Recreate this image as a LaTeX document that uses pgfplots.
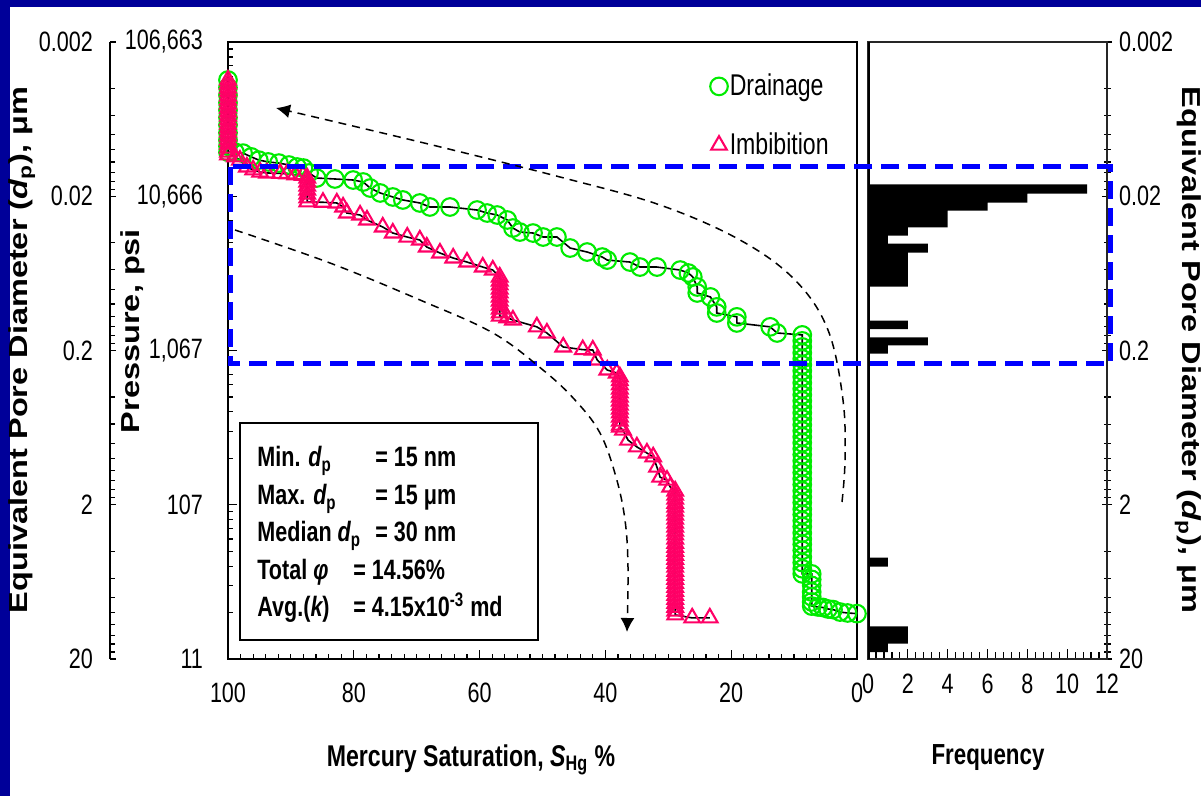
\documentclass[border=0pt]{standalone}
\usepackage{fontspec}
\setmainfont{Liberation Sans}
\newfontfamily\narrowfont[FakeStretch=0.77]{Liberation Sans}
\newfontfamily\widefont[FakeStretch=1.25]{Liberation Sans}
\usepackage{pgfplots}
\pgfplotsset{compat=1.18}
\usepackage{pgfplotstable}
\usetikzlibrary{arrows.meta}
\definecolor{bgblue}{RGB}{0,0,153}
\definecolor{dgreen}{RGB}{0,235,0}
\definecolor{imbpink}{RGB}{255,0,102}
\definecolor{boxblue}{RGB}{0,0,255}
\newcommand\ticfont{\narrowfont\fontsize{14}{16}\selectfont}

\pgfplotstableread{
S P
100 60500
100 54000
100 48300
100 43000
100 38600
100 34500
100 30900
100 27500
100 24700
100 22500
100 20600
98.9 20600
97.6 20300
96.3 19200
95.1 18300
93.6 17800
91.9 17500
90.3 17000
89.0 16500
88.0 16250
87.1 15100
85.9 14000
83.0 13800
80.1 13590
78.5 13190
77.4 12060
75.8 11200
73.8 10550
72.2 10090
69.5 9645
67.9 9085
64.7 9085
60.4 8685
58.8 8305
57.2 8060
55.6 7485
54.7 6637
53.6 6251
51.5 6158
49.9 5803
47.7 5803
45.6 4924
42.9 4638
40.5 4304
39.7 4115
36.1 3995
34.5 3707
31.8 3707
28.1 3545
26.8 3390
26.1 3196
25.4 2752
25.4 2517
23.3 2372
22.3 2044
22.3 1867
19.1 1762
19.1 1609
13.8 1518
12.7 1385
8.7 1346
8.7 1231
8.7 1125
8.7 1029
8.7 941
8.7 860
8.7 787
8.7 719
8.7 658
8.7 601
8.7 550
8.7 503
8.7 460
8.7 420
8.7 384
8.7 351
8.7 321
8.7 294
8.7 269
8.7 246
8.7 225
8.7 205
8.7 188
8.7 172
8.7 157
8.7 144
8.7 131
8.7 120
8.7 110
8.7 100
8.7 92
8.7 84
8.7 77
8.7 70
8.7 64
8.7 59
8.7 54
8.7 49
8.7 45
8.7 41
8.7 38
7.2 38
7.2 35
7.2 32
7.2 29
7.2 27
7.2 25
7.2 23.5
6.2 23.2
5.4 23.0
4.6 22.5
3.8 22.3
2.7 21.5
1.5 21.2
0 21.0
}\drainage

\pgfplotstableread{
S P
100 60500
100 57000
100 53700
100 50600
100 47600
100 44900
100 42300
100 39800
100 37500
100 35300
100 33300
100 31300
100 29500
100 27800
100 26200
100 24700
100 23200
100 21900
100 20600
100 19800
98.9 19200
98.1 18300
97.0 16500
96.0 15800
94.9 15300
93.8 15100
91.7 15000
90.6 14900
89.3 14700
88.1 14600
87.4 14000
87.4 13200
87.4 12400
87.4 11700
87.4 11000
87.4 10400
87.4 9800
84.9 9750
82.7 9645
81.7 9085
81.1 8305
79.0 8060
77.9 7485
75.4 6740
73.8 6160
71.5 5800
69.5 5550
68.4 5000
66.3 4570
64.2 4240
62.0 3995
59.5 3707
57.9 3545
56.8 3196
56.8 3010
56.8 2840
56.8 2670
56.8 2520
56.8 2370
56.8 2230
56.8 2100
56.8 1980
56.8 1870
56.8 1780
55.6 1740
54.7 1682
50.9 1518
49.3 1385
46.7 1124
43.6 1080
42.0 1074
41.3 926
39.7 797
38.2 762
37.7 720
37.7 680
37.7 640
37.7 600
37.7 566
37.7 533
37.7 502
37.7 473
37.7 445
37.7 420
37.7 395
37.7 372
37.7 350
37.7 340
37.2 325
36.4 280
35.0 253
33.4 231
32.4 218
31.8 187
31.3 161
30.2 154
29.7 139
28.9 131
28.9 123
28.9 116
28.9 109
28.9 103
28.9 97
28.9 91.5
28.9 86
28.9 81
28.9 76.5
28.9 72
28.9 68
28.9 64
28.9 60
28.9 56.5
28.9 53.3
28.9 50.2
28.9 47.3
28.9 44.5
28.9 42
28.9 39.5
28.9 37.2
28.9 35.1
28.9 33
28.9 31.1
28.9 29.3
28.9 27.6
28.9 26
28.9 24.5
28.9 23.1
28.9 21.8
28.9 20.6
26.2 19.7
23.4 19.7
}\imbibition

\pgfplotstableread{
F D
11 0.01678
8 0.01920
6 0.02196
4 0.02474
4 0.02808
2 0.03188
1 0.03594
3 0.04050
2 0.04632
2 0.05258
2 0.05970
2 0.06776
0 0.07694
2 0.1278
0 0.1451
3 0.1647
1 0.1856
0 0.2092
1 4.396
0 5.028
2 12.31
2 13.98
1 15.87
0 18.02
}\hist

\begin{document}
\begin{tikzpicture}
\fill[bgblue] (0,0) rectangle (600.5pt,-398pt);
\fill[white] (5pt,-3.5pt) rectangle (600.5pt,-398pt);
\useasboundingbox (0,0) rectangle (600.5pt,-398pt);

% diameter / pressure tick axis
\begin{axis}[
  at={(55pt,-329.5pt)}, anchor=south west,
  scale only axis, width=59pt, height=308.5pt,
  axis y line*=left, axis x line=none,
  xmin=0, xmax=1,
  ymode=log, y dir=reverse, ymin=0.002, ymax=20,
  ytick={0.002,0.02,0.2,2,20},
  yticklabels={0.002,0.02,0.2,2,20},
  minor ytick={0.004,0.006,0.008,0.01,0.012,0.014,0.016,0.018,0.04,0.06,0.08,0.1,0.12,0.14,0.16,0.18,0.4,0.6,0.8,1,1.2,1.4,1.6,1.8,4,6,8,10,12,14,16,18},
  tick align=inside, major tick length=2.8pt, minor tick length=2.5pt,
  tick style={black, line width=0.6pt},
  axis line style={line width=1pt},
  yticklabel style={font=\ticfont, xshift=-5pt},
]
\end{axis}

% main capillary pressure axis
\begin{axis}[
  at={(114pt,-329.5pt)}, anchor=south west,
  scale only axis, width=314.5pt, height=308.5pt,
  xmin=0, xmax=100, x dir=reverse,
  ymode=log, ymin=10.6663, ymax=106663,
  xtick={0,20,40,60,80,100}, xticklabels={0,20,40,60,80,100},
  minor x tick num=9,
  ytick={10.6663,106.663,1066.63,10666.3,106663},
  yticklabels={{11},{107},{1,067},{10,666},{106,663}},
  minor ytick={21.333,31.999,42.665,53.332,63.998,74.664,85.330,95.997,213.33,319.99,426.65,533.32,639.98,746.64,853.30,959.97,2133.3,3199.9,4266.5,5333.2,6399.8,7466.4,8533.0,9599.7,21333,31999,42665,53332,63998,74664,85330,95997},
  xtick pos=left, ytick pos=left,
  tick align=inside,
  major tick length=4.5pt, minor tick length=2.5pt,
  tick style={black, line width=0.6pt},
  axis line style={line width=1pt},
  ticklabel style={font=\ticfont},
  /pgf/number format/assume math mode=true,
  yticklabel style={xshift=-9pt},
  xticklabel style={yshift=-8.5pt},
  clip=false,
  legend style={at={(0.766,0.952)}, anchor=north west, draw=none, fill=none,
    inner sep=0pt, row sep=15pt, nodes={inner sep=1pt},
    font=\narrowfont\fontsize{15}{17}\selectfont},
  legend cell align=left,
  legend image code/.code={\draw[#1] plot coordinates {(4pt,0pt)};},
]
\addplot[only marks, mark=o, mark size=4.4pt, color=dgreen, mark options={line width=1.05pt}] table[x=S,y=P]{\drainage};
\addlegendentry{Drainage}
\addplot[only marks, mark=triangle, mark size=4.5pt, color=imbpink, mark options={line width=1.05pt}] table[x=S,y=P]{\imbibition};
\addlegendentry{Imbibition}
\addplot[black, line width=0.8pt, no marks, forget plot] table[x=S,y=P]{\drainage};
\addplot[black, line width=0.8pt, no marks, forget plot] table[x=S,y=P]{\imbibition};
\end{axis}

% histogram axis
\begin{axis}[
  at={(434pt,-329.5pt)}, anchor=south west,
  scale only axis, width=119.5pt, height=308.5pt,
  xmin=0, xmax=12,
  ymode=log, y dir=reverse, ymin=0.002, ymax=20,
  xtick={0,2,4,6,8,10,12}, xticklabels={0,2,4,6,8,10,12},
  minor x tick num=4,
  ytick={0.002,0.02,0.2,2,20},
  yticklabels={0.002,0.02,0.2,2,20},
  minor ytick={0.004,0.006,0.008,0.01,0.012,0.014,0.016,0.018,0.04,0.06,0.08,0.1,0.12,0.14,0.16,0.18,0.4,0.6,0.8,1,1.2,1.4,1.6,1.8,4,6,8,10,12,14,16,18},
  xtick pos=left, ytick pos=right, yticklabel pos=right,
  xtick align=inside, ytick align=center,
  major tick length=5pt, minor tick length=3.5pt,
  tick style={black, line width=0.6pt},
  axis line style={line width=0.9pt, black!85},
  ticklabel style={font=\ticfont},
  xticklabel style={yshift=-4pt},
]
\addplot[xbar interval, fill=black, draw=none] table[x=F,y=D]{\hist};
\draw[line width=1.7pt] (rel axis cs:0,0) -- (rel axis cs:0,1);
\end{axis}

% blue dashed box
\draw[boxblue, line width=2.5pt, dash pattern=on 9pt off 4.5pt] (115pt,-83.5pt) rectangle (555pt,-182pt);

% dashed arrows
\draw[black, line width=0.75pt, dash pattern=on 4pt off 3pt, -{Latex[length=7pt,width=7pt]}]
  plot[smooth, tension=0.6] coordinates {(421pt,-251pt) (422.5pt,-230pt) (421.5pt,-200pt) (414pt,-165pt) (397.5pt,-140pt) (370pt,-120pt) (330pt,-102.5pt) (280pt,-88.5pt) (210pt,-71pt) (138pt,-54pt)};
\draw[black, line width=0.75pt, dash pattern=on 4pt off 3pt, -{Latex[length=7pt,width=7pt]}]
  plot[smooth, tension=0.6] coordinates {(117.5pt,-115pt) (165pt,-131.5pt) (210pt,-150pt) (246.5pt,-166.5pt) (271.5pt,-185pt) (287.5pt,-200pt) (300pt,-216.5pt) (308pt,-238.5pt) (312.5pt,-260pt) (314pt,-283.5pt) (313.5pt,-316pt)};

% statistics box
\draw[line width=0.6pt] (120pt,-211.5pt) rectangle (269pt,-320pt);
\begin{scope}[every node/.style={anchor=base west, inner sep=0pt, font=\narrowfont\bfseries\fontsize{14}{16}\selectfont}]
\node at (128.5pt,-233.5pt) {\makebox[59pt][l]{Min. {\itshape d}\textsubscript{p}}= 15 nm};
\node at (128.5pt,-252.5pt) {\makebox[59pt][l]{Max. {\itshape d}\textsubscript{p}}= 15 μm};
\node at (128.5pt,-271pt) {\makebox[59pt][l]{Median {\itshape d}\textsubscript{p}}= 30 nm};
\node at (128.5pt,-290pt) {\makebox[48pt][l]{Total {\itshape φ}}= 14.56\%};
\node at (128.5pt,-308.5pt) {\makebox[48pt][l]{Avg.({\itshape k})}= 4.15x10\textsuperscript{-3} md};
\end{scope}

% axis titles
\node[rotate=90, font=\widefont\bfseries\fontsize{13}{15}\selectfont] at (11pt,-175pt) {Equivalent Pore Diameter ({\itshape d}\textsubscript{p}), μm};
\node[rotate=90, font=\widefont\bfseries\fontsize{13}{15}\selectfont] at (66.5pt,-165.5pt) {Pressure, psi};
\node[rotate=-90, font=\widefont\bfseries\fontsize{13}{15}\selectfont] at (594pt,-175pt) {Equivalent Pore Diameter ({\itshape d}\textsubscript{p}), μm};
\node[font=\narrowfont\bfseries\fontsize{15}{17}\selectfont] at (235.5pt,-380pt) {Mercury Saturation, {\itshape S}\textsubscript{Hg} \%};
\node[font=\narrowfont\bfseries\fontsize{14.5}{17}\selectfont] at (494pt,-379pt) {Frequency};
\end{tikzpicture}
\end{document}
